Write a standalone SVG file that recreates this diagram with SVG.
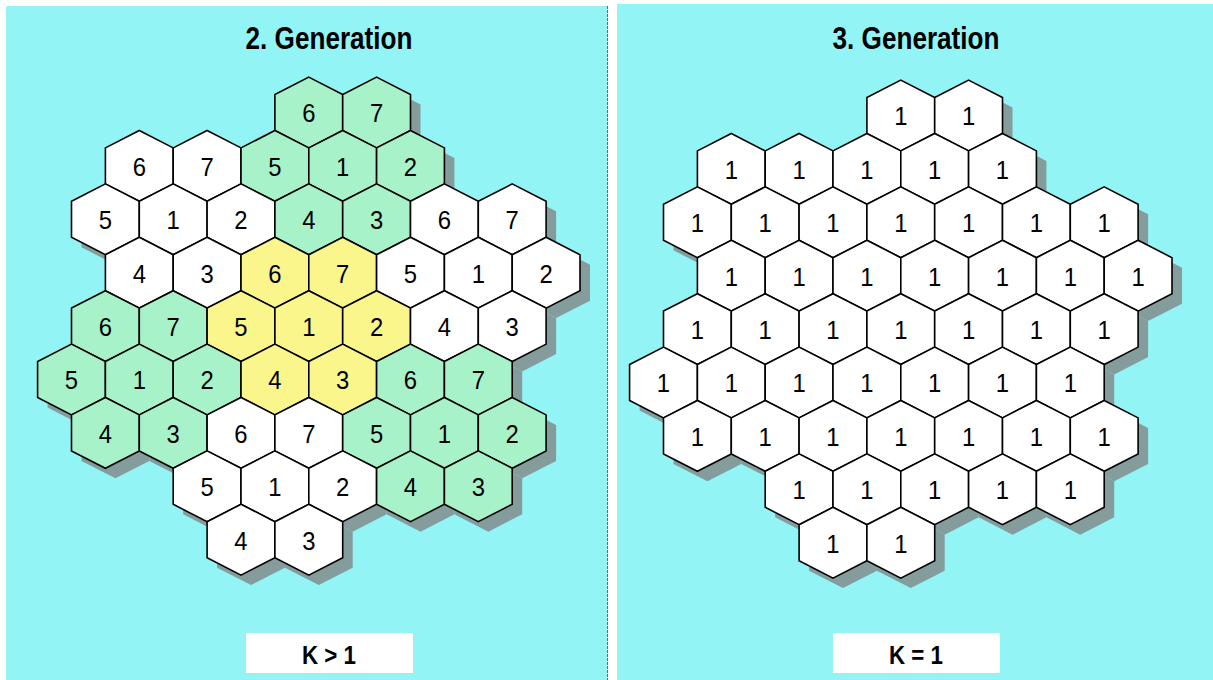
<svg xmlns="http://www.w3.org/2000/svg" xmlns:xlink="http://www.w3.org/1999/xlink" width="1213" height="680" viewBox="0 0 1213 680">
<style>
.hx{stroke:#000;stroke-width:1.6;stroke-linejoin:miter}
.w{fill:#ffffff}
.g{fill:#a8f2ca}
.y{fill:#faf68c}
.n text{font-family:"Liberation Sans",Arial,sans-serif;font-size:26.5px;text-anchor:middle;fill:#000;transform-box:fill-box;transform-origin:center;transform:scaleX(0.9)}
.title{font-family:"Liberation Sans",Arial,sans-serif;font-size:32px;font-weight:bold;text-anchor:middle;fill:#000}
.k{font-family:"Liberation Sans",Arial,sans-serif;font-size:26px;font-weight:bold;text-anchor:middle;fill:#000}
.panel{fill:#93f4f6}
</style>
<defs>
<polygon id="hex" points="0,-35.4 33.9,-18 33.9,18 0,35.4 -33.9,18 -33.9,-18"/>
<g id="cluster">
<use href="#hex" x="308.8" y="112.5"/><use href="#hex" x="376.6" y="112.5"/>
<use href="#hex" x="139.3" y="165.9"/><use href="#hex" x="207.1" y="165.9"/><use href="#hex" x="274.9" y="165.9"/><use href="#hex" x="342.7" y="165.9"/><use href="#hex" x="410.5" y="165.9"/>
<use href="#hex" x="105.4" y="219.3"/><use href="#hex" x="173.2" y="219.3"/><use href="#hex" x="241" y="219.3"/><use href="#hex" x="308.8" y="219.3"/><use href="#hex" x="376.6" y="219.3"/><use href="#hex" x="444.4" y="219.3"/><use href="#hex" x="512.2" y="219.3"/>
<use href="#hex" x="139.3" y="272.7"/><use href="#hex" x="207.1" y="272.7"/><use href="#hex" x="274.9" y="272.7"/><use href="#hex" x="342.7" y="272.7"/><use href="#hex" x="410.5" y="272.7"/><use href="#hex" x="478.3" y="272.7"/><use href="#hex" x="546.1" y="272.7"/>
<use href="#hex" x="105.4" y="326.1"/><use href="#hex" x="173.2" y="326.1"/><use href="#hex" x="241" y="326.1"/><use href="#hex" x="308.8" y="326.1"/><use href="#hex" x="376.6" y="326.1"/><use href="#hex" x="444.4" y="326.1"/><use href="#hex" x="512.2" y="326.1"/>
<use href="#hex" x="71.5" y="379.5"/><use href="#hex" x="139.3" y="379.5"/><use href="#hex" x="207.1" y="379.5"/><use href="#hex" x="274.9" y="379.5"/><use href="#hex" x="342.7" y="379.5"/><use href="#hex" x="410.5" y="379.5"/><use href="#hex" x="478.3" y="379.5"/>
<use href="#hex" x="105.4" y="432.9"/><use href="#hex" x="173.2" y="432.9"/><use href="#hex" x="241" y="432.9"/><use href="#hex" x="308.8" y="432.9"/><use href="#hex" x="376.6" y="432.9"/><use href="#hex" x="444.4" y="432.9"/><use href="#hex" x="512.2" y="432.9"/>
<use href="#hex" x="207.1" y="486.3"/><use href="#hex" x="274.9" y="486.3"/><use href="#hex" x="342.7" y="486.3"/><use href="#hex" x="410.5" y="486.3"/><use href="#hex" x="478.3" y="486.3"/>
<use href="#hex" x="241" y="539.7"/><use href="#hex" x="308.8" y="539.7"/>
</g>
</defs>
<rect width="1213" height="680" fill="#ffffff"/>
<rect class="panel" x="6" y="6" width="601.5" height="674"/>
<line x1="607.5" y1="6" x2="607.5" y2="680" stroke="#666" stroke-width="1" stroke-dasharray="3,1"/>
<rect class="panel" x="617" y="4" width="596" height="676"/>
<text class="title" x="329" y="49" textLength="167" lengthAdjust="spacingAndGlyphs">2. Generation</text>
<text class="title" x="916" y="49" textLength="167" lengthAdjust="spacingAndGlyphs">3. Generation</text>
<g id="shadows">
<use href="#cluster" x="10" y="10" fill="#849c9c"/>
<use href="#cluster" x="602" y="13" fill="#849c9c"/>
</g>
<g id="connectors"/>
<g id="left-panel" class="n">
<g id="L0-7"><use href="#hex" class="hx g" x="308.8" y="112.5"/><text x="308.8" y="122.5">6</text></g>
<g id="L0-9"><use href="#hex" class="hx g" x="376.6" y="112.5"/><text x="376.6" y="122.5">7</text></g>
<g id="L1-2"><use href="#hex" class="hx w" x="139.3" y="165.9"/><text x="139.3" y="175.9">6</text></g>
<g id="L1-4"><use href="#hex" class="hx w" x="207.1" y="165.9"/><text x="207.1" y="175.9">7</text></g>
<g id="L1-6"><use href="#hex" class="hx g" x="274.9" y="165.9"/><text x="274.9" y="175.9">5</text></g>
<g id="L1-8"><use href="#hex" class="hx g" x="342.7" y="165.9"/><text x="342.7" y="175.9">1</text></g>
<g id="L1-10"><use href="#hex" class="hx g" x="410.5" y="165.9"/><text x="410.5" y="175.9">2</text></g>
<g id="L2-1"><use href="#hex" class="hx w" x="105.4" y="219.3"/><text x="105.4" y="229.3">5</text></g>
<g id="L2-3"><use href="#hex" class="hx w" x="173.2" y="219.3"/><text x="173.2" y="229.3">1</text></g>
<g id="L2-5"><use href="#hex" class="hx w" x="241" y="219.3"/><text x="241" y="229.3">2</text></g>
<g id="L2-7"><use href="#hex" class="hx g" x="308.8" y="219.3"/><text x="308.8" y="229.3">4</text></g>
<g id="L2-9"><use href="#hex" class="hx g" x="376.6" y="219.3"/><text x="376.6" y="229.3">3</text></g>
<g id="L2-11"><use href="#hex" class="hx w" x="444.4" y="219.3"/><text x="444.4" y="229.3">6</text></g>
<g id="L2-13"><use href="#hex" class="hx w" x="512.2" y="219.3"/><text x="512.2" y="229.3">7</text></g>
<g id="L3-2"><use href="#hex" class="hx w" x="139.3" y="272.7"/><text x="139.3" y="282.7">4</text></g>
<g id="L3-4"><use href="#hex" class="hx w" x="207.1" y="272.7"/><text x="207.1" y="282.7">3</text></g>
<g id="L3-6"><use href="#hex" class="hx y" x="274.9" y="272.7"/><text x="274.9" y="282.7">6</text></g>
<g id="L3-8"><use href="#hex" class="hx y" x="342.7" y="272.7"/><text x="342.7" y="282.7">7</text></g>
<g id="L3-10"><use href="#hex" class="hx w" x="410.5" y="272.7"/><text x="410.5" y="282.7">5</text></g>
<g id="L3-12"><use href="#hex" class="hx w" x="478.3" y="272.7"/><text x="478.3" y="282.7">1</text></g>
<g id="L3-14"><use href="#hex" class="hx w" x="546.1" y="272.7"/><text x="546.1" y="282.7">2</text></g>
<g id="L4-1"><use href="#hex" class="hx g" x="105.4" y="326.1"/><text x="105.4" y="336.1">6</text></g>
<g id="L4-3"><use href="#hex" class="hx g" x="173.2" y="326.1"/><text x="173.2" y="336.1">7</text></g>
<g id="L4-5"><use href="#hex" class="hx y" x="241" y="326.1"/><text x="241" y="336.1">5</text></g>
<g id="L4-7"><use href="#hex" class="hx y" x="308.8" y="326.1"/><text x="308.8" y="336.1">1</text></g>
<g id="L4-9"><use href="#hex" class="hx y" x="376.6" y="326.1"/><text x="376.6" y="336.1">2</text></g>
<g id="L4-11"><use href="#hex" class="hx w" x="444.4" y="326.1"/><text x="444.4" y="336.1">4</text></g>
<g id="L4-13"><use href="#hex" class="hx w" x="512.2" y="326.1"/><text x="512.2" y="336.1">3</text></g>
<g id="L5-0"><use href="#hex" class="hx g" x="71.5" y="379.5"/><text x="71.5" y="389.5">5</text></g>
<g id="L5-2"><use href="#hex" class="hx g" x="139.3" y="379.5"/><text x="139.3" y="389.5">1</text></g>
<g id="L5-4"><use href="#hex" class="hx g" x="207.1" y="379.5"/><text x="207.1" y="389.5">2</text></g>
<g id="L5-6"><use href="#hex" class="hx y" x="274.9" y="379.5"/><text x="274.9" y="389.5">4</text></g>
<g id="L5-8"><use href="#hex" class="hx y" x="342.7" y="379.5"/><text x="342.7" y="389.5">3</text></g>
<g id="L5-10"><use href="#hex" class="hx g" x="410.5" y="379.5"/><text x="410.5" y="389.5">6</text></g>
<g id="L5-12"><use href="#hex" class="hx g" x="478.3" y="379.5"/><text x="478.3" y="389.5">7</text></g>
<g id="L6-1"><use href="#hex" class="hx g" x="105.4" y="432.9"/><text x="105.4" y="442.9">4</text></g>
<g id="L6-3"><use href="#hex" class="hx g" x="173.2" y="432.9"/><text x="173.2" y="442.9">3</text></g>
<g id="L6-5"><use href="#hex" class="hx w" x="241" y="432.9"/><text x="241" y="442.9">6</text></g>
<g id="L6-7"><use href="#hex" class="hx w" x="308.8" y="432.9"/><text x="308.8" y="442.9">7</text></g>
<g id="L6-9"><use href="#hex" class="hx g" x="376.6" y="432.9"/><text x="376.6" y="442.9">5</text></g>
<g id="L6-11"><use href="#hex" class="hx g" x="444.4" y="432.9"/><text x="444.4" y="442.9">1</text></g>
<g id="L6-13"><use href="#hex" class="hx g" x="512.2" y="432.9"/><text x="512.2" y="442.9">2</text></g>
<g id="L7-4"><use href="#hex" class="hx w" x="207.1" y="486.3"/><text x="207.1" y="496.3">5</text></g>
<g id="L7-6"><use href="#hex" class="hx w" x="274.9" y="486.3"/><text x="274.9" y="496.3">1</text></g>
<g id="L7-8"><use href="#hex" class="hx w" x="342.7" y="486.3"/><text x="342.7" y="496.3">2</text></g>
<g id="L7-10"><use href="#hex" class="hx g" x="410.5" y="486.3"/><text x="410.5" y="496.3">4</text></g>
<g id="L7-12"><use href="#hex" class="hx g" x="478.3" y="486.3"/><text x="478.3" y="496.3">3</text></g>
<g id="L8-5"><use href="#hex" class="hx w" x="241" y="539.7"/><text x="241" y="549.7">4</text></g>
<g id="L8-7"><use href="#hex" class="hx w" x="308.8" y="539.7"/><text x="308.8" y="549.7">3</text></g>
</g>
<g id="right-panel" class="n" transform="translate(592,3)">
<g id="R0-7"><use href="#hex" class="hx w" x="308.8" y="112.5"/><text x="308.8" y="122.5">1</text></g>
<g id="R0-9"><use href="#hex" class="hx w" x="376.6" y="112.5"/><text x="376.6" y="122.5">1</text></g>
<g id="R1-2"><use href="#hex" class="hx w" x="139.3" y="165.9"/><text x="139.3" y="175.9">1</text></g>
<g id="R1-4"><use href="#hex" class="hx w" x="207.1" y="165.9"/><text x="207.1" y="175.9">1</text></g>
<g id="R1-6"><use href="#hex" class="hx w" x="274.9" y="165.9"/><text x="274.9" y="175.9">1</text></g>
<g id="R1-8"><use href="#hex" class="hx w" x="342.7" y="165.9"/><text x="342.7" y="175.9">1</text></g>
<g id="R1-10"><use href="#hex" class="hx w" x="410.5" y="165.9"/><text x="410.5" y="175.9">1</text></g>
<g id="R2-1"><use href="#hex" class="hx w" x="105.4" y="219.3"/><text x="105.4" y="229.3">1</text></g>
<g id="R2-3"><use href="#hex" class="hx w" x="173.2" y="219.3"/><text x="173.2" y="229.3">1</text></g>
<g id="R2-5"><use href="#hex" class="hx w" x="241" y="219.3"/><text x="241" y="229.3">1</text></g>
<g id="R2-7"><use href="#hex" class="hx w" x="308.8" y="219.3"/><text x="308.8" y="229.3">1</text></g>
<g id="R2-9"><use href="#hex" class="hx w" x="376.6" y="219.3"/><text x="376.6" y="229.3">1</text></g>
<g id="R2-11"><use href="#hex" class="hx w" x="444.4" y="219.3"/><text x="444.4" y="229.3">1</text></g>
<g id="R2-13"><use href="#hex" class="hx w" x="512.2" y="219.3"/><text x="512.2" y="229.3">1</text></g>
<g id="R3-2"><use href="#hex" class="hx w" x="139.3" y="272.7"/><text x="139.3" y="282.7">1</text></g>
<g id="R3-4"><use href="#hex" class="hx w" x="207.1" y="272.7"/><text x="207.1" y="282.7">1</text></g>
<g id="R3-6"><use href="#hex" class="hx w" x="274.9" y="272.7"/><text x="274.9" y="282.7">1</text></g>
<g id="R3-8"><use href="#hex" class="hx w" x="342.7" y="272.7"/><text x="342.7" y="282.7">1</text></g>
<g id="R3-10"><use href="#hex" class="hx w" x="410.5" y="272.7"/><text x="410.5" y="282.7">1</text></g>
<g id="R3-12"><use href="#hex" class="hx w" x="478.3" y="272.7"/><text x="478.3" y="282.7">1</text></g>
<g id="R3-14"><use href="#hex" class="hx w" x="546.1" y="272.7"/><text x="546.1" y="282.7">1</text></g>
<g id="R4-1"><use href="#hex" class="hx w" x="105.4" y="326.1"/><text x="105.4" y="336.1">1</text></g>
<g id="R4-3"><use href="#hex" class="hx w" x="173.2" y="326.1"/><text x="173.2" y="336.1">1</text></g>
<g id="R4-5"><use href="#hex" class="hx w" x="241" y="326.1"/><text x="241" y="336.1">1</text></g>
<g id="R4-7"><use href="#hex" class="hx w" x="308.8" y="326.1"/><text x="308.8" y="336.1">1</text></g>
<g id="R4-9"><use href="#hex" class="hx w" x="376.6" y="326.1"/><text x="376.6" y="336.1">1</text></g>
<g id="R4-11"><use href="#hex" class="hx w" x="444.4" y="326.1"/><text x="444.4" y="336.1">1</text></g>
<g id="R4-13"><use href="#hex" class="hx w" x="512.2" y="326.1"/><text x="512.2" y="336.1">1</text></g>
<g id="R5-0"><use href="#hex" class="hx w" x="71.5" y="379.5"/><text x="71.5" y="389.5">1</text></g>
<g id="R5-2"><use href="#hex" class="hx w" x="139.3" y="379.5"/><text x="139.3" y="389.5">1</text></g>
<g id="R5-4"><use href="#hex" class="hx w" x="207.1" y="379.5"/><text x="207.1" y="389.5">1</text></g>
<g id="R5-6"><use href="#hex" class="hx w" x="274.9" y="379.5"/><text x="274.9" y="389.5">1</text></g>
<g id="R5-8"><use href="#hex" class="hx w" x="342.7" y="379.5"/><text x="342.7" y="389.5">1</text></g>
<g id="R5-10"><use href="#hex" class="hx w" x="410.5" y="379.5"/><text x="410.5" y="389.5">1</text></g>
<g id="R5-12"><use href="#hex" class="hx w" x="478.3" y="379.5"/><text x="478.3" y="389.5">1</text></g>
<g id="R6-1"><use href="#hex" class="hx w" x="105.4" y="432.9"/><text x="105.4" y="442.9">1</text></g>
<g id="R6-3"><use href="#hex" class="hx w" x="173.2" y="432.9"/><text x="173.2" y="442.9">1</text></g>
<g id="R6-5"><use href="#hex" class="hx w" x="241" y="432.9"/><text x="241" y="442.9">1</text></g>
<g id="R6-7"><use href="#hex" class="hx w" x="308.8" y="432.9"/><text x="308.8" y="442.9">1</text></g>
<g id="R6-9"><use href="#hex" class="hx w" x="376.6" y="432.9"/><text x="376.6" y="442.9">1</text></g>
<g id="R6-11"><use href="#hex" class="hx w" x="444.4" y="432.9"/><text x="444.4" y="442.9">1</text></g>
<g id="R6-13"><use href="#hex" class="hx w" x="512.2" y="432.9"/><text x="512.2" y="442.9">1</text></g>
<g id="R7-4"><use href="#hex" class="hx w" x="207.1" y="486.3"/><text x="207.1" y="496.3">1</text></g>
<g id="R7-6"><use href="#hex" class="hx w" x="274.9" y="486.3"/><text x="274.9" y="496.3">1</text></g>
<g id="R7-8"><use href="#hex" class="hx w" x="342.7" y="486.3"/><text x="342.7" y="496.3">1</text></g>
<g id="R7-10"><use href="#hex" class="hx w" x="410.5" y="486.3"/><text x="410.5" y="496.3">1</text></g>
<g id="R7-12"><use href="#hex" class="hx w" x="478.3" y="486.3"/><text x="478.3" y="496.3">1</text></g>
<g id="R8-5"><use href="#hex" class="hx w" x="241" y="539.7"/><text x="241" y="549.7">1</text></g>
<g id="R8-7"><use href="#hex" class="hx w" x="308.8" y="539.7"/><text x="308.8" y="549.7">1</text></g>
</g>
<g id="label-left"><rect x="246" y="633" width="167" height="40" fill="#ffffff"/><text class="k" x="329" y="664" textLength="54" lengthAdjust="spacingAndGlyphs">K &gt; 1</text></g>
<g id="label-right"><rect x="833" y="633" width="167" height="40" fill="#ffffff"/><text class="k" x="916" y="664" textLength="54" lengthAdjust="spacingAndGlyphs">K = 1</text></g>
</svg>
